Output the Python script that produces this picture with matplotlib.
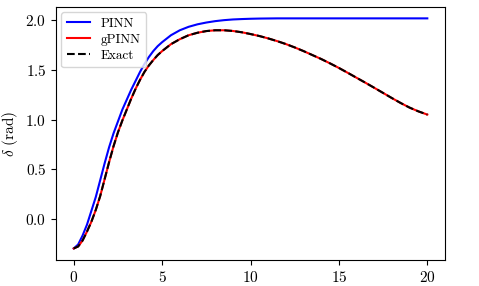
import numpy as np
import matplotlib
matplotlib.use("Agg")
import matplotlib.pyplot as plt

plt.rcParams['font.family'] = 'serif'
plt.rcParams['font.serif'] = ['cmr10']
plt.rcParams['mathtext.fontset'] = 'cm'
plt.rcParams['axes.formatter.use_mathtext'] = True

# time samples (s)
t = [0, 0.25, 0.5, 0.75, 1.0, 1.25, 1.5, 1.75, 2.0, 2.25, 2.5, 2.75, 3.0, 3.25,
     3.5, 3.75, 4.0, 4.25, 4.5, 4.75, 5.0, 5.5, 6.0, 6.5, 7.0, 7.5, 8.0, 8.5,
     9.0, 9.5, 10, 10.5, 11, 11.5, 12, 12.5, 13, 13.5, 14, 14.5, 15, 15.5, 16,
     16.5, 17, 17.5, 18, 18.5, 19, 19.5, 20]

# rotor angle
exact = [-0.30, -0.28, -0.22, -0.13, -0.03, 0.09, 0.23, 0.40, 0.57, 0.73, 0.87,
         0.99, 1.10, 1.21, 1.31, 1.40, 1.48, 1.545, 1.60, 1.65, 1.69, 1.76,
         1.81, 1.85, 1.875, 1.892, 1.90, 1.90, 1.893, 1.88, 1.862, 1.842,
         1.818, 1.791, 1.761, 1.727, 1.69, 1.65, 1.61, 1.566, 1.52, 1.471,
         1.421, 1.371, 1.32, 1.268, 1.216, 1.166, 1.12, 1.082, 1.05]
gpinn = exact[:]
pinn = [-0.30, -0.26, -0.17, -0.06, 0.08, 0.22, 0.39, 0.56, 0.72, 0.86, 0.98,
        1.10, 1.20, 1.30, 1.39, 1.48, 1.56, 1.63, 1.69, 1.74, 1.78, 1.85,
        1.90, 1.935, 1.96, 1.978, 1.992, 2.002, 2.009, 2.013, 2.016, 2.018,
        2.019, 2.02, 2.02, 2.02, 2.02, 2.02, 2.02, 2.02, 2.02, 2.02, 2.02,
        2.02, 2.02, 2.02, 2.02, 2.02, 2.02, 2.02, 2.02]

fig = plt.figure(figsize=(4.79, 2.86), dpi=100)
ax = fig.add_axes([0.117, 0.091, 0.812, 0.885])

ax.plot(t, pinn, 'b', lw=1.5, label='PINN')
ax.plot(t, gpinn, 'r', lw=1.5, label='gPINN')
ax.plot(t, exact, 'k--', lw=1.5, label='Exact')

ax.set_ylabel(r'$\delta$ (rad)', fontsize=11)
ax.set_xticks([0, 5, 10, 15, 20])
ax.set_yticks([0.0, 0.5, 1.0, 1.5, 2.0])
ax.tick_params(labelsize=11)
ax.legend(loc='upper left', fontsize=9.5, handlelength=1.8,
          labelspacing=0.3, borderaxespad=0.4)

fig.savefig('out.png', dpi=100)
